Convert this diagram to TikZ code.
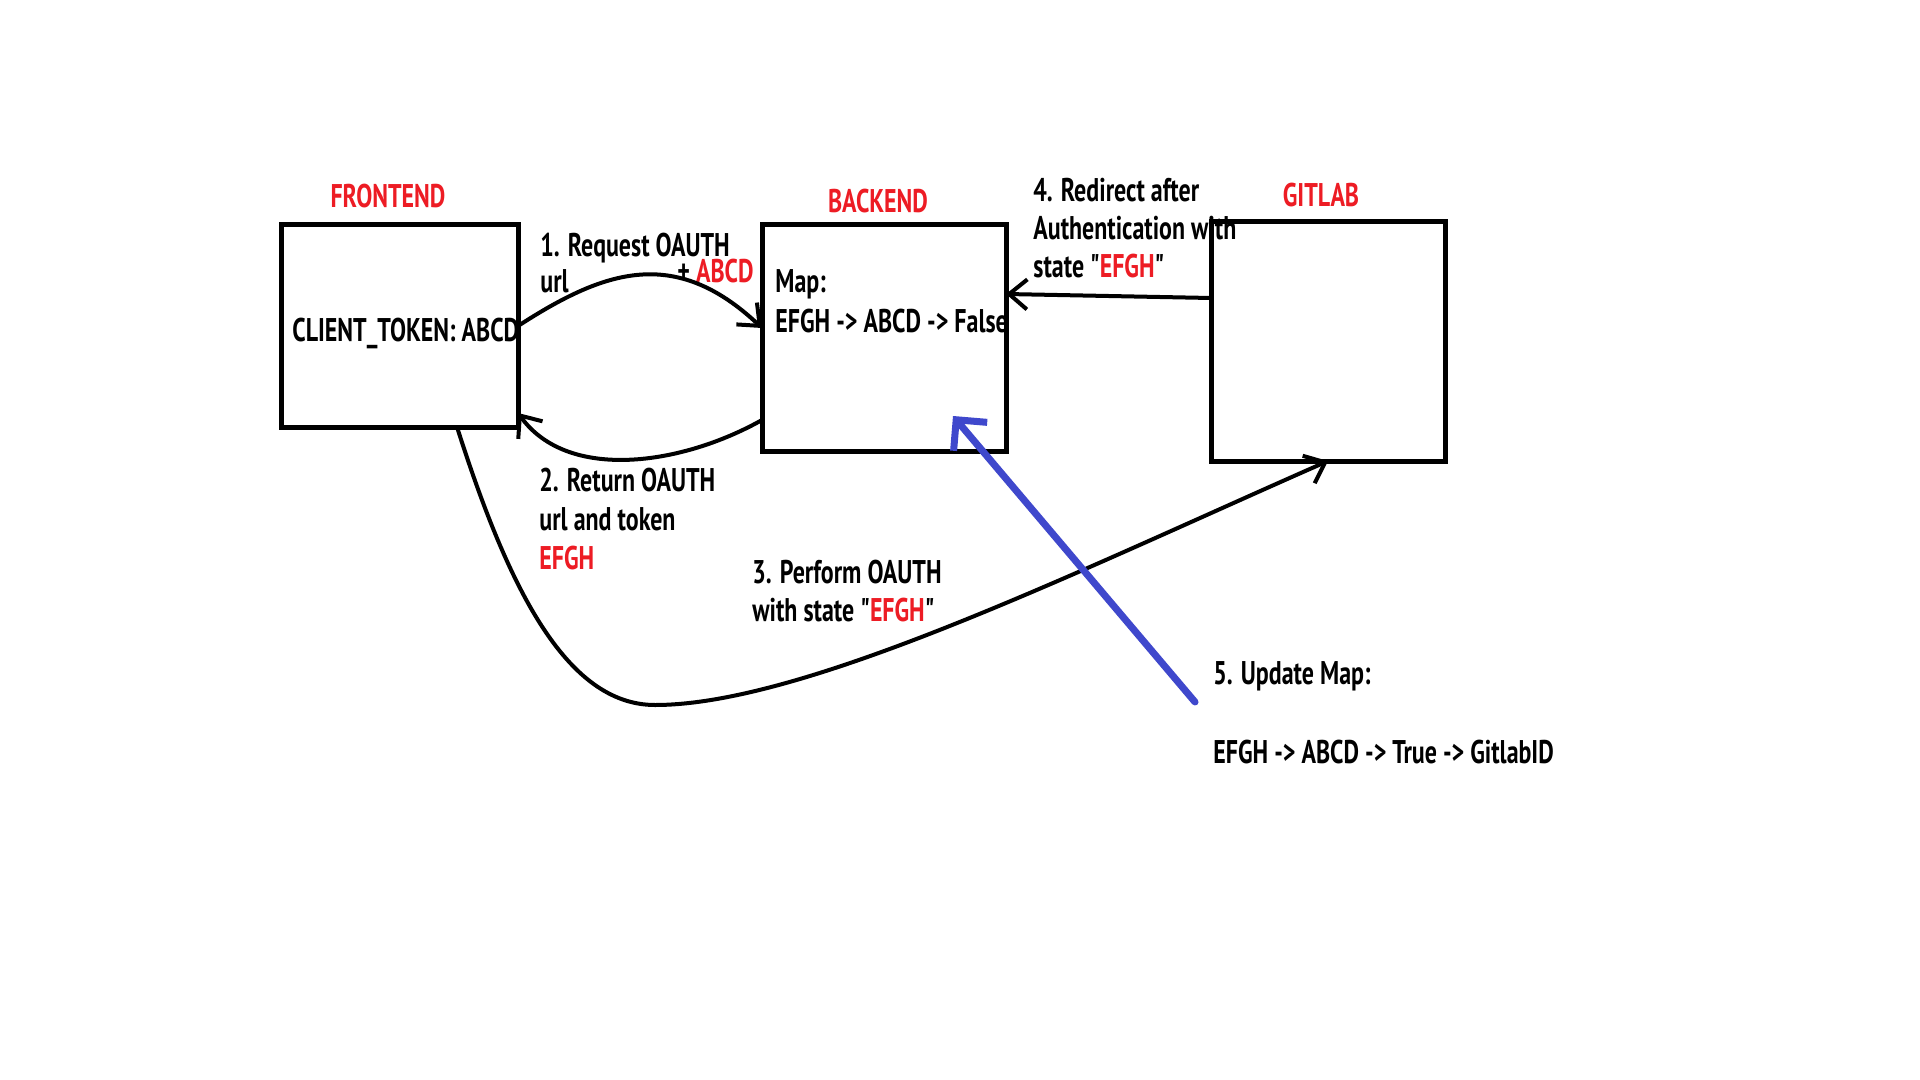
\documentclass[tikz,border=0pt]{standalone}
\usepackage{fontspec}
\usetikzlibrary{arrows.meta,calc}
\newfontfamily\hand[FakeStretch=0.73]{PT Sans}
\definecolor{pred}{RGB}{237,28,36}
\definecolor{pblue}{RGB}{63,72,204}
\begin{document}
\begin{tikzpicture}[x=0.5pt,y=-0.5pt,
  box/.style={draw,line width=2.5pt,inner sep=0pt,outer sep=0pt},
  lbl/.style={anchor=base west,inner sep=0pt,font=\hand\bfseries\fontsize{16.4}{19}\selectfont},
  ttl/.style={anchor=base,inner sep=0pt,text=pred,font=\hand\bfseries\fontsize{16.4}{19}\selectfont},
  conn/.style={line width=2pt,-{Straight Barb[length=9pt,width=15pt]}},
  bconn/.style={pblue,line width=3.5pt,line cap=round,-{Straight Barb[length=11pt,width=22pt]}}]
\useasboundingbox[fill=white] (0,0) rectangle (1920,1080);
% boxes
\node[box,minimum width=118.5pt,minimum height=101pt] (fe) at (399.5,326) {};
\node[box,minimum width=122pt,minimum height=113pt] (be) at (884,338) {};
\node[box,minimum width=117pt,minimum height=119.5pt] (gl) at (1328,341.5) {};
% titles
\node[ttl] (tfe) at (388,208) {FRONTEND};
\node[ttl] (tbe) at (878,213) {BACKEND};
\node[ttl] (tgl) at (1321,207) {GITLAB};
% box contents
\node[lbl] (ct) at (292,342) {CLIENT\_TOKEN: ABCD};
\node[lbl] (m1) at (775,293) {Map:};
\node[lbl] (m2) at (775,333) {EFGH -> ABCD -> False};
% step labels
\node[lbl] (s1a) at (540,257) {1. Request OAUTH};
\node[lbl] (s1b) at (540,293) {url};
\node[lbl] (s1c) at (677,283) {+ \textcolor{pred}{ABCD}};
\node[lbl] (s2a) at (539,491) {2. Return OAUTH};
\node[lbl] (s2b) at (539,530) {url and token};
\node[lbl,text=pred] (s2c) at (539,569) {EFGH};
\node[lbl] (s3a) at (752,583) {3. Perform OAUTH};
\node[lbl] (s3b) at (752,621) {with state "\textcolor{pred}{EFGH}"};
\node[lbl] (s4a) at (1033,202) {4. Redirect after};
\node[lbl] (s4b) at (1033,240) {Authentication with};
\node[lbl] (s4c) at (1033,278) {state "\textcolor{pred}{EFGH}"};
\node[lbl] (s5a) at (1213,684) {5. Update Map:};
\node[lbl] (s5b) at (1213,763) {EFGH -> ABCD -> True -> GitlabID};
% connectors
\draw[conn] (fe.east) .. controls +(85,-55) and +(-88,-83) .. ([yshift=5pt]be.west);
\draw[conn] ([yshift=-41pt]be.west) .. controls +(-80,45) and +(50,69) .. ([yshift=-43.5pt]fe.east);
\coordinate (c3) at (655,705);
\draw[conn] ([xshift=28.75pt]fe.south) .. controls +(50,157) and +(-90,0) .. (c3)
  .. controls +(150,0) and +(-250,110) .. (gl.south);
\draw[conn] ([yshift=21.75pt]gl.west) -- ([yshift=22pt]be.east);
\coordinate (t5) at (1195,702);
\draw[bconn] (t5) -- ($(be.south)+(69,-35)$);
\end{tikzpicture}
\end{document}
